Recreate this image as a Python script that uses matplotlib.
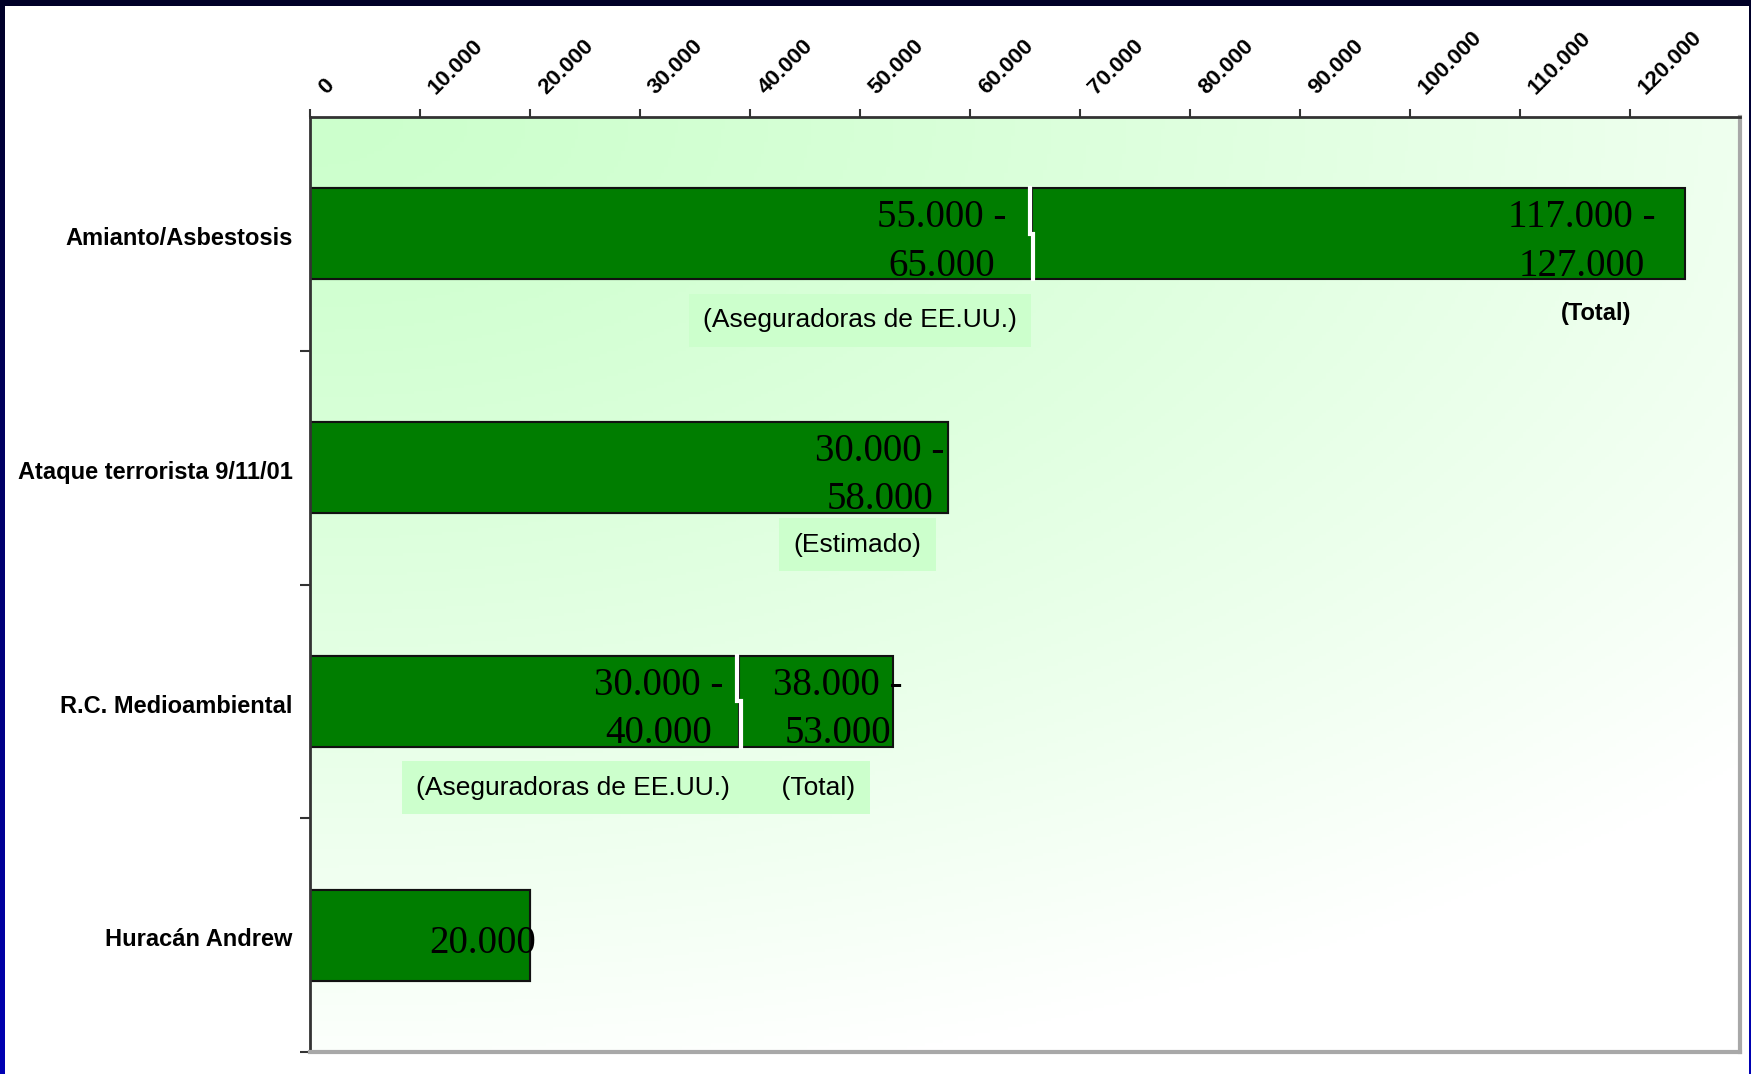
import numpy as np
import matplotlib.pyplot as plt
from matplotlib.colors import LinearSegmentedColormap

categories = ['Amianto/Asbestosis', 'Ataque terrorista 9/11/01',
              'R.C. Medioambiental', 'Huracán Andrew']
# first segment (US insurers) and total bar end, in millions of $
seg1 = [65600, 58000, 39000, 20000]
total = [125000, 58000, 53000, 20000]
bar_labels = [
    [('55.000 -\n65.000', 57400), ('117.000 -\n127.000', 115600)],
    [('30.000 -\n58.000', 51800)],
    [('30.000 -\n40.000', 31700), ('38.000 -\n53.000', 48000)],
    [('20.000', 15700)],
]
notes = [
    ('(Aseguradoras de EE.UU.)', 0, 50000, 0.37, True),
    ('(Total)', 0, 116900, 0.34, False),
    ('(Estimado)', 1, 49800, 0.33, True),
    ('(Aseguradoras de EE.UU.)       (Total)', 2, 29600, 0.37, True),
]
ticks = np.arange(0, 130000, 10000)
tick_labels = ['0'] + [f'{t // 1000}.000' for t in ticks[1:]]

bar_green = '#007d00'
note_green = '#ccffcc'

fig = plt.figure(figsize=(17.51, 10.74), dpi=100)

# slide frame: dark navy to blue
frame = fig.add_axes([0, 0, 1, 1])
frame.imshow(np.linspace(0, 1, 256).reshape(-1, 1),
             cmap=LinearSegmentedColormap.from_list('nv', ['#000028', '#0000b4']),
             aspect='auto', extent=[0, 1, 0, 1], origin='upper')
frame.axis('off')
white = fig.add_axes([5 / 1751, 0, 1744 / 1751, 1 - 6 / 1074])
white.set_facecolor('white')
white.set_xticks([])
white.set_yticks([])
for s in white.spines.values():
    s.set_visible(False)

ax = fig.add_axes([310 / 1751, 1 - 1052 / 1074, 1430 / 1751, 935 / 1074])
ax.set_xlim(0, 130000)
ax.set_ylim(3.5, -0.5)

# green-to-white gradient from the top-left corner
xx, yy = np.meshgrid(np.linspace(0, 1, 400), np.linspace(0, 1, 300))
t = np.clip(np.sqrt((xx * 0.75) ** 2 + (yy * 0.95) ** 2), 0, 1) ** 1.3
grad = LinearSegmentedColormap.from_list('gw', ['#ccffcc', '#ffffff'])
ax.imshow(t, cmap=grad, aspect='auto', extent=[0, 130000, 3.5, -0.5],
          origin='upper', zorder=0, vmin=0, vmax=1)

y = np.arange(len(categories))
h = 0.39
ax.barh(y, total, height=h, color=bar_green, edgecolor='#111111', lw=1.5, zorder=2)
ax.barh(y, seg1, height=h, color=bar_green, edgecolor='#111111', lw=1.5, zorder=2)

# white split between the two segments
for i in range(len(categories)):
    if total[i] > seg1[i]:
        ax.plot([seg1[i] - 150, seg1[i] - 150], [i - h / 2, i], color='white', lw=3, zorder=3)
        ax.plot([seg1[i] + 150, seg1[i] + 150], [i, i + h / 2], color='white', lw=3, zorder=3)

for i, labs in enumerate(bar_labels):
    for txt, xc in labs:
        ax.text(xc, i + 0.035, txt, ha='center', va='center', multialignment='center',
                family='Liberation Serif', fontsize=28, linespacing=1.4, zorder=4)

for txt, i, xc, dy, boxed in notes:
    if boxed:
        ax.text(xc, i + dy, txt, ha='center', va='center', family='Liberation Sans',
                fontsize=19, zorder=4,
                bbox=dict(boxstyle='square,pad=0.55', fc=note_green, ec='none'))
    else:
        ax.text(xc, i + dy, txt, ha='center', va='center', family='Liberation Sans',
                fontsize=17, fontweight='bold', zorder=4)

# top axis: ticks, with rotated labels placed by hand
ax.xaxis.tick_top()
ax.set_xticks(ticks)
ax.set_xticklabels([])
ax.tick_params(axis='x', length=6, width=1.5, color='#333333')
for tv, tl in zip(ticks, tick_labels):
    ax.annotate(tl, xy=(tv, 1), xycoords=('data', 'axes fraction'),
                xytext=(14, 13), textcoords='offset points', rotation=45,
                ha='left', va='bottom', rotation_mode='anchor',
                family='Liberation Sans', fontsize=16, fontweight='bold',
                annotation_clip=False)

ax.set_yticks(np.arange(0.5, 3.6, 1.0))
ax.set_yticklabels([])
ax.tick_params(axis='y', length=7, width=1.5, color='#333333')
for i, c in enumerate(categories):
    ax.text(-0.012, i + 0.02, c, transform=ax.get_yaxis_transform(), ha='right', va='center',
            family='Liberation Sans', fontsize=17, fontweight='bold')

ax.spines['top'].set_color('#333333')
ax.spines['left'].set_color('#333333')
ax.spines['top'].set_linewidth(2)
ax.spines['left'].set_linewidth(2)
ax.spines['right'].set_color('#a8a8a8')
ax.spines['bottom'].set_color('#a8a8a8')
ax.spines['right'].set_linewidth(3)
ax.spines['bottom'].set_linewidth(3)

fig.savefig('out.png', dpi=100)
